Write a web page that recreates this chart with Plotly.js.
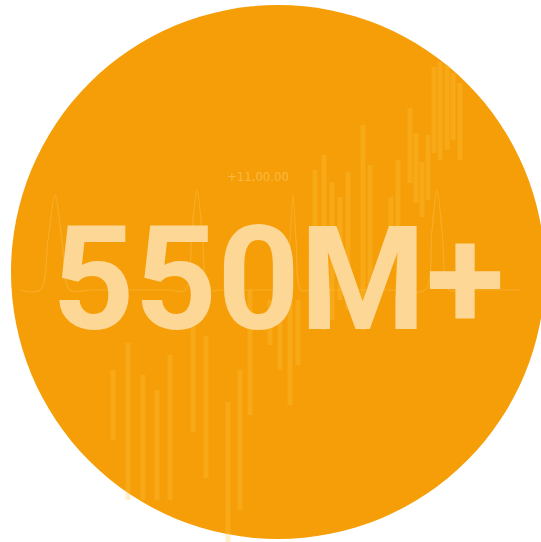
<!DOCTYPE html>
<html>
<head>
<meta charset="utf-8">
<script src="https://cdn.plot.ly/plotly-3.0.1.min.js"></script>
<style>html,body{margin:0;padding:0;background:#fff;}#chart{width:541px;height:542px;}</style>
</head>
<body>
<div id="chart"></div>
<script>
// Faint background candlestick bars (pixel-space positions)
const candleX    = [113,128,143,157,170,193,206,228,240,250,270,280,290,298,315,324,332,340,348,363,370,391,398,410,416,422,428,434,440,447,453,460];
const candleTop  = [370,343,375,390,355,300,336,402,370,290,300,250,280,300,170,155,182,197,172,125,165,197,160,108,133,162,135, 67, 62, 65, 73, 83];
const candleBot  = [440,500,500,500,500,432,478,542,510,415,345,370,405,365,300,330,320,300,310,330,300,260,300,183,203,217,200,153,160,150,140,160];
// Faint wave line
const waveX = [20,40,48,55,62,70,90,110,140,170,185,192,197,202,209,220,250,275,285,290,293,296,301,310,340,370,400,425,432,437,442,449,460,490,520];
const waveY = [290,290,240,195,240,290,290,290,290,290,290,230,190,230,290,290,290,290,290,240,195,240,290,290,290,290,290,290,230,190,230,290,290,290,290];
const headline = "550M+";
const priceLabel = "+11,00.00";

const traces = [
  {type:'bar', x:candleX, base:candleTop, y:candleX.map((_,i)=>candleBot[i]-candleTop[i]),
   width:5, marker:{color:'rgba(255,196,70,0.28)', line:{width:0}}, hoverinfo:'skip'},
  {type:'scatter', mode:'lines', x:waveX, y:waveY, line:{color:'rgba(255,205,110,0.3)', width:1.2, shape:'spline'}, hoverinfo:'skip'}
];

const layout = {
  width:541, height:542,
  margin:{l:0,r:0,t:0,b:0},
  paper_bgcolor:'#ffffff', plot_bgcolor:'rgba(0,0,0,0)',
  showlegend:false,
  xaxis:{range:[0,541], visible:false, fixedrange:true},
  yaxis:{range:[542,0], visible:false, fixedrange:true},
  shapes:[{type:'circle', xref:'x', yref:'y', x0:11, x1:545, y0:5, y1:539,
           fillcolor:'#F59E08', line:{width:0}, layer:'below'}],
  annotations:[
    {x:278, y:279, xref:'x', yref:'y', text:'<b>'+headline+'</b>', showarrow:false,
     font:{family:'Roboto', size:144, color:'#FDD795'}, xanchor:'center', yanchor:'middle'},
    {x:258, y:176, xref:'x', yref:'y', text:priceLabel, showarrow:false,
     font:{family:'DejaVu Sans Condensed', size:13, color:'rgba(255,205,110,0.6)'}}
  ]
};
Plotly.newPlot('chart', traces, layout, {displayModeBar:false, staticPlot:true});
</script>
</body>
</html>
